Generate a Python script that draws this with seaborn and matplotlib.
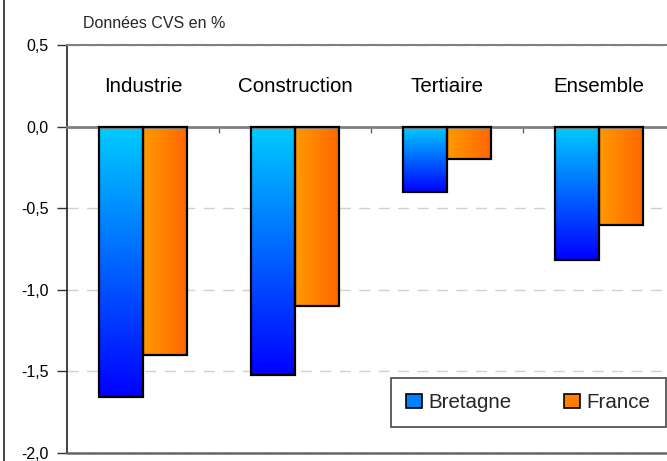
import matplotlib.pyplot as plt
import matplotlib.lines as mlines
import matplotlib.patches as mpatches
from matplotlib.colors import LinearSegmentedColormap
from matplotlib.ticker import FuncFormatter
import numpy as np
import pandas as pd
import seaborn as sns

# Données
secteurs = ['Industrie', 'Construction', 'Tertiaire', 'Ensemble']
bretagne = [-1.66, -1.52, -0.40, -0.82]
france = [-1.40, -1.10, -0.20, -0.60]
yticks = [0.5, 0.0, -0.5, -1.0, -1.5, -2.0]

df = pd.DataFrame({
    'secteur': secteurs * 2,
    'zone': ['Bretagne'] * 4 + ['France'] * 4,
    'valeur': bretagne + france,
})

sns.set_theme(style='white')
plt.rcParams['font.family'] = ['Liberation Sans', 'DejaVu Sans']

fig = plt.figure(figsize=(6.67, 4.61), dpi=100)
ax = fig.add_axes([0.1004, 0.0174, 0.912, 0.885])

sns.barplot(data=df, x='secteur', y='valeur', hue='zone', order=secteurs,
            palette=['#0080ff', '#ff8000'], width=0.58, saturation=1,
            edgecolor='black', linewidth=1.6, legend=False, ax=ax)

# Dégradés dans les barres
bleu = LinearSegmentedColormap.from_list('bleu', ['#0000ff', '#0066ff', '#00ccff'])
orange = LinearSegmentedColormap.from_list('orange', ['#ff9900', '#ff6600'])
grad = np.linspace(0, 1, 256)
for cont, cmap, arr in [(ax.containers[0], bleu, grad.reshape(-1, 1)),
                        (ax.containers[1], orange, grad.reshape(1, -1))]:
    for p in cont:
        x0, y0 = p.get_x(), p.get_y()
        x1, y1 = x0 + p.get_width(), y0 + p.get_height()
        p.set_facecolor('none')
        p.set_zorder(3)
        im = ax.imshow(arr, cmap=cmap, origin='lower', aspect='auto',
                       extent=[x0, x1, min(y0, y1), max(y0, y1)], zorder=2.5)
        im.set_clip_path(p)

ax.set_xlim(-0.5, 3.5)
ax.set_ylim(-2.0, 0.5)

# Axes
ax.spines['right'].set_visible(False)
ax.spines['left'].set_color('#222222')
ax.spines['left'].set_linewidth(1.2)
ax.spines['top'].set_color('#808080')
ax.spines['top'].set_linewidth(1.5)
ax.spines['bottom'].set_position(('data', 0))
ax.spines['bottom'].set_color('#808080')
ax.spines['bottom'].set_linewidth(2)
ax.axhline(-2.0, color='#666666', lw=1.8, clip_on=False, zorder=4)

ax.set_yticks(yticks)
ax.yaxis.set_major_formatter(FuncFormatter(lambda v, pos: f'{v:.1f}'.replace('.', ',')))
ax.tick_params(axis='y', left=True, direction='out', length=7, width=1,
               color='#333333', labelsize=11.5, pad=6, labelcolor='black')
ax.set_xticks([0.5, 1.5, 2.5])
ax.set_xticklabels([])
ax.tick_params(axis='x', bottom=True, direction='out', length=4, width=1, color='#666666')
ax.set_xlabel('')
ax.set_ylabel('')

ax.yaxis.grid(True, color='#d0d0d0', lw=1, linestyle=(0, (8, 6)))
ax.set_axisbelow(True)

# Libellés des secteurs
for i, s in enumerate(secteurs):
    ax.text(i, 0.245, s, ha='center', va='center', fontsize=14.8, color='black')

fig.text(83 / 667, 1 - 23 / 461, 'Données CVS en %', fontsize=11.5, va='center')

# Légende
handles = [mpatches.Patch(facecolor='#0080ff', edgecolor='black', lw=1.2),
           mpatches.Patch(facecolor='#ff8000', edgecolor='black', lw=1.2)]
leg = ax.legend(handles, ['Bretagne', 'France'], ncol=2, loc='lower left',
                bbox_to_anchor=(0.533, 0.064, 0.451, 0.127), mode='expand',
                frameon=True, fancybox=False, edgecolor='#555555', framealpha=1,
                fontsize=14.8, handlelength=0.77, handleheight=0.67,
                handletextpad=0.34, borderaxespad=0, borderpad=0.72)
leg.get_frame().set_linewidth(1.3)
leg.set_zorder(5)

# Bordure gauche de la figure
fig.add_artist(mlines.Line2D([4 / 667] * 2, [0, 1], color='#222222', lw=1.2,
                             transform=fig.transFigure))

fig.savefig('out.png', dpi=100)
